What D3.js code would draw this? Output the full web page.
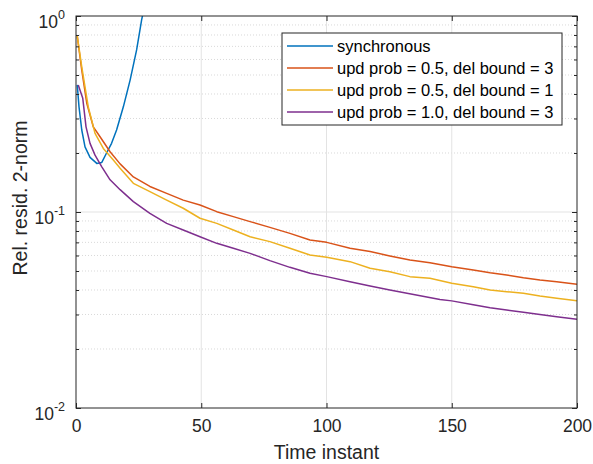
<!DOCTYPE html>
<html>
<head>
<meta charset="utf-8">
<script src="https://cdn.jsdelivr.net/npm/d3@7"></script>
<style>
  body { margin:0; background:#fff; }
  svg { font-family: "Liberation Sans", Arial, sans-serif; }
</style>
</head>
<body>
<svg id="chart" width="593" height="464"></svg>
<script>
// values, [time instant, rel. residual]
const syncData = [[0.5,0.445],[1.2,0.344],[2.3,0.262],[3.6,0.215],[5.6,0.19],[8.3,0.177],[10.3,0.179],
  [12.2,0.2],[14.2,0.224],[16.2,0.262],[18.9,0.344],[21.6,0.471],[24.2,0.671],[26.2,0.955],[27.5,1.15]];
const prob05del3 = [[0.5,0.79],[2.3,0.53],[4.3,0.359],[6.9,0.272],[9.6,0.242],[13.6,0.203],[17.6,0.176],
  [22.9,0.151],[29.5,0.135],[36.2,0.1245],[42.8,0.115],[49.5,0.1086],[56.2,0.1004],[62.8,0.0947],
  [69.5,0.0893],[77.4,0.0835],[85.4,0.0778],[93.4,0.072],[100.1,0.070],[109.4,0.0653],[117.4,0.0628],
  [125.3,0.0597],[133.3,0.0569],[141.3,0.0551],[150,0.0526],[158.6,0.0506],[165.3,0.049],[171.9,0.0477],
  [178.6,0.0462],[185.2,0.045],[191.9,0.0441],[200,0.0428]];
const prob05del1 = [[0.5,0.79],[2.3,0.55],[4.9,0.344],[7.6,0.252],[10.9,0.211],[14.9,0.184],[17.6,0.167],
  [22.9,0.14],[29.5,0.127],[36.2,0.115],[42.8,0.1045],[49.5,0.0929],[56.2,0.0875],[62.8,0.081],
  [69.5,0.0748],[77.4,0.0706],[85.4,0.0653],[93.4,0.0604],[100.1,0.0587],[109.4,0.0558],[117.4,0.0516],
  [125.3,0.0496],[133.3,0.0468],[141.3,0.0459],[150,0.0433],[158.6,0.0416],[165.3,0.04],[171.9,0.0392],
  [178.6,0.0385],[185.2,0.0373],[191.9,0.0363],[200,0.0353]];
const prob10del3 = [[0.9,0.445],[2.7,0.38],[4,0.272],[5.6,0.224],[7.6,0.195],[10.3,0.170],[13.6,0.146],
  [17.6,0.13],[22.9,0.113],[29.5,0.0985],[36.2,0.0875],[42.8,0.081],[49.5,0.0748],[56.2,0.0692],
  [62.8,0.0653],[69.5,0.0615],[77.4,0.0565],[85.4,0.0522],[93.4,0.0487],[100.1,0.0468],[109.4,0.0441],
  [117.4,0.0419],[125.3,0.04],[145.3,0.0358],[150,0.0352],[158.6,0.0336],[165.3,0.0325],[171.9,0.0316],
  [178.6,0.0308],[185.2,0.03],[191.9,0.0292],[200,0.0284]];

const seriesNames = ["synchronous", "upd prob = 0.5, del bound = 3",
  "upd prob = 0.5, del bound = 1", "upd prob = 1.0, del bound = 3"];
const seriesColors = ["#0072BD", "#D95319", "#EDB120", "#7E2F8E"];
const xTicks = [0, 50, 100, 150, 200];
const yTicks = [0.01, 0.1, 1];
const yExps = ["-2", "-1", "0"];

const dims = { width: 593, height: 464 };
const margins = { left: 76, right: 16, top: 16, bottom: 56 };
const axisColor = "#262626";

let xScale = d3.scaleLinear().domain([0, 200]).range([margins.left, dims.width - margins.right]);
let yScale = d3.scaleLog().domain([0.01, 1]).range([dims.height - margins.bottom, margins.top]);

let svg = d3.select("#chart");
const x0 = xScale.range()[0], x1 = xScale.range()[1];
const y0 = yScale.range()[0], y1 = yScale.range()[1];

// minor y values 2..9 per decade
let minorY = [];
[0.01, 0.1].forEach(d => { for (let k = 2; k <= 9; k++) minorY.push(d * k); });

// grid
let grid = svg.append("g");
grid.selectAll(".minor").data(minorY).enter().append("line")
  .attr("x1", x0).attr("x2", x1)
  .attr("y1", d => yScale(d)).attr("y2", d => yScale(d))
  .attr("stroke", "#d9d9d9").attr("stroke-width", 1).attr("stroke-dasharray", "1,2");
grid.selectAll(".gy").data([0.1]).enter().append("line")
  .attr("x1", x0).attr("x2", x1)
  .attr("y1", d => yScale(d)).attr("y2", d => yScale(d))
  .attr("stroke", "#e3e3e3").attr("stroke-width", 1);
grid.selectAll(".gx").data(xTicks.slice(1, -1)).enter().append("line")
  .attr("x1", d => xScale(d)).attr("x2", d => xScale(d))
  .attr("y1", y0).attr("y2", y1)
  .attr("stroke", "#e3e3e3").attr("stroke-width", 1);

// lines
svg.append("clipPath").attr("id", "clip").append("rect")
  .attr("x", x0).attr("y", y1).attr("width", x1 - x0).attr("height", y0 - y1);

const allSeries = [syncData, prob05del3, prob05del1, prob10del3];
let line = d3.line().x(d => xScale(d[0])).y(d => yScale(d[1]));
svg.append("g").attr("clip-path", "url(#clip)")
  .selectAll("path").data(allSeries).enter().append("path")
  .attr("d", line)
  .attr("fill", "none")
  .attr("stroke", (d, i) => seriesColors[i])
  .attr("stroke-width", 1.5)
  .attr("stroke-linejoin", "round");

// axes box with inward ticks
let ax = svg.append("g");
ax.append("rect").attr("x", x0).attr("y", y1).attr("width", x1 - x0).attr("height", y0 - y1)
  .attr("fill", "none").attr("stroke", axisColor).attr("stroke-width", 1);

let bottomAxis = d3.axisBottom(xScale).tickValues(xTicks).tickSize(-5).tickPadding(12).tickFormat(d3.format("d"));
let topAxis = d3.axisTop(xScale).tickValues(xTicks).tickSize(-5).tickFormat("");
ax.append("g").attr("transform", `translate(0,${y0})`).call(bottomAxis);
ax.append("g").attr("transform", `translate(0,${y1})`).call(topAxis);

let leftAxis = d3.axisLeft(yScale).tickValues(yTicks).tickSize(-5).tickFormat("");
let rightAxis = d3.axisRight(yScale).tickValues(yTicks).tickSize(-5).tickFormat("");
let leftMinor = d3.axisLeft(yScale).tickValues(minorY).tickSize(-3).tickFormat("");
let rightMinor = d3.axisRight(yScale).tickValues(minorY).tickSize(-3).tickFormat("");
ax.append("g").attr("transform", `translate(${x0},0)`).call(leftAxis);
ax.append("g").attr("transform", `translate(${x1},0)`).call(rightAxis);
ax.append("g").attr("transform", `translate(${x0},0)`).call(leftMinor);
ax.append("g").attr("transform", `translate(${x1},0)`).call(rightMinor);

ax.selectAll(".domain").remove();
ax.selectAll(".tick line").attr("stroke", axisColor);
ax.selectAll(".tick text").attr("fill", axisColor).attr("font-size", 17.5).attr("font-family", "Liberation Sans, Arial, sans-serif");

// y tick labels as 10^k
let ylab = svg.append("g");
yTicks.forEach((v, i) => {
  let t = ylab.append("text")
    .attr("x", x0 - 11).attr("y", yScale(v) + 12)
    .attr("text-anchor", "end").attr("fill", axisColor).attr("font-size", 17.5);
  t.append("tspan").text("10");
  t.append("tspan").attr("dy", -9).attr("font-size", 12.5).text(yExps[i]);
});

// axis labels
svg.append("text").attr("x", (x0 + x1) / 2).attr("y", 459)
  .attr("text-anchor", "middle").attr("fill", axisColor).attr("font-size", 19.5)
  .text("Time instant");
svg.append("text").attr("transform", `translate(27,198) rotate(-90)`)
  .attr("text-anchor", "middle").attr("fill", axisColor).attr("font-size", 19.5)
  .text("Rel. resid. 2-norm");

// legend
let lg = svg.append("g");
lg.append("rect").attr("x", 282).attr("y", 33).attr("width", 280).attr("height", 92)
  .attr("fill", "#fff").attr("stroke", axisColor).attr("stroke-width", 1);
seriesNames.forEach((name, i) => {
  let yy = 46 + i * 22;
  lg.append("line").attr("x1", 287).attr("x2", 333).attr("y1", yy).attr("y2", yy)
    .attr("stroke", seriesColors[i]).attr("stroke-width", 1.5);
  lg.append("text").attr("x", 337).attr("y", yy + 6)
    .attr("fill", "#000").attr("font-size", 16.5).text(name);
});
</script>
</body>
</html>
